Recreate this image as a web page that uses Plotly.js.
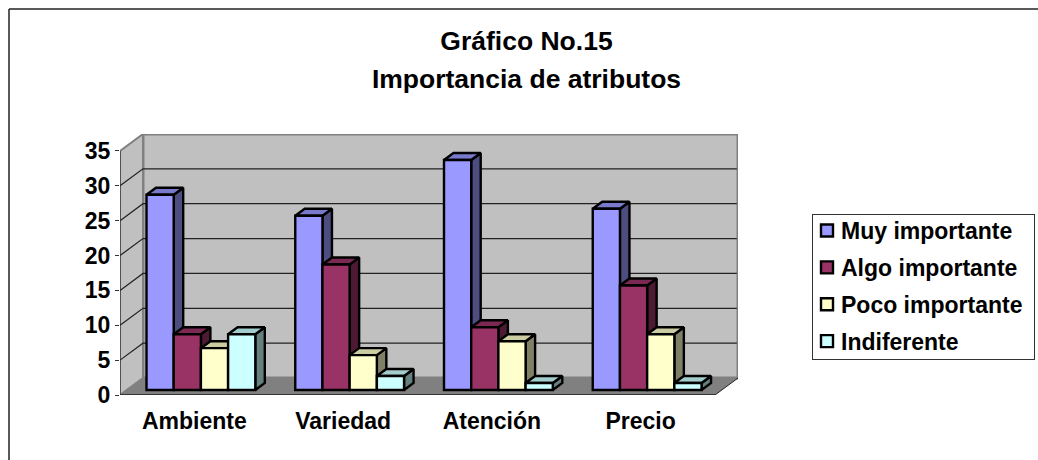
<!DOCTYPE html>
<html>
<head>
<meta charset="utf-8">
<script src="https://cdn.plot.ly/plotly-3.0.1.min.js"></script>
<style>html,body{margin:0;padding:0;background:#fff;overflow:hidden}</style>
</head>
<body>
<div id="chart" style="width:1038px;height:460px"></div>
<script>
const categories = ['Ambiente', 'Variedad', 'Atención', 'Precio'];
const seriesNames = ['Muy importante', 'Algo importante', 'Poco importante', 'Indiferente'];
const muyImportante = [28, 25, 33, 26];
const algoImportante = [8, 18, 9, 15];
const pocoImportante = [6, 5, 7, 8];
const indiferente = [8, 2, 1, 1];
const seriesValues = [muyImportante, algoImportante, pocoImportante, indiferente];
const frontColors = ['#9999FF', '#993366', '#FFFFCC', '#CCFFFF'];
const sideColors = ['#4D4D80', '#4D1A33', '#808066', '#668080'];
const topColors = ['#7A7ACC', '#7A2952', '#CCCCA3', '#A3CCCC'];
const yTicks = [0, 5, 10, 15, 20, 25, 30, 35];

const FONT = '"Liberation Sans", Arial, sans-serif';
const PX_X = 148.75, PX_Y = 6.98;          // pixels per axis unit
const wallDX = 23 / PX_X, wallDY = 17 / PX_Y;    // depth of the chart floor
const barDX = 9.5 / PX_X, barDY = 7 / PX_Y;      // depth of a bar
const barBase = 5 / PX_Y;                        // bars stand inside the floor
const barW = 27.2 / PX_X;
const groupStart = -0.5 + 26.5 / PX_X;
const xMin = -0.5, xMax = 3.5, yTop = 35;
const xRange = [xMin, xMax + wallDX];
const yRange = [0, yTop + wallDY];

const traces = [];
function poly(xs, ys, fill, lineColor, lineWidth) {
  traces.push({
    type: 'scatter', mode: 'lines', x: xs, y: ys,
    fill: fill ? 'toself' : 'none', fillcolor: fill || undefined,
    line: {color: lineColor || 'rgba(0,0,0,0)', width: lineWidth === undefined ? 1 : lineWidth},
    showlegend: false, hoverinfo: 'skip', cliponaxis: false, xaxis: 'x', yaxis: 'y'
  });
}

// back wall, left wall, floor
poly([xMin + wallDX, xMax + wallDX, xMax + wallDX, xMin + wallDX, xMin + wallDX],
     [wallDY, wallDY, yTop + wallDY, yTop + wallDY, wallDY], '#C0C0C0', '#808080', 3);
poly([xMin, xMin + wallDX, xMin + wallDX, xMin, xMin],
     [0, wallDY, yTop + wallDY, yTop, 0], '#C0C0C0', '#808080', 2);
poly([xMin, xMin + wallDX, xMax + wallDX, xMax, xMin],
     [0, wallDY, wallDY, 0, 0], '#808080', 'rgba(0,0,0,0)', 0);
poly([xMax, xMax + wallDX], [0, wallDY], null, '#222', 1);

// grid lines across the left wall and the back wall
yTicks.filter(v => v > 0 && v < yTop).forEach(v => {
  poly([xMin, xMin + wallDX, xMax + wallDX - 0.008], [v, v + wallDY, v + wallDY], null, '#222', 1.2);
});

// axis lines and category tick marks
poly([xMin, xMin], [0, yTop], null, '#333', 1.2);
poly([xMin, xMax], [0, 0], null, '#333', 2);
[0, 1, 2, 3, 4].forEach(i => {
  poly([xMin + i, xMin + i], [0, -0.75], null, '#444', 1);
});

// side and top faces of the bars, left to right
categories.forEach((c, ci) => {
  seriesValues.forEach((vals, si) => {
    const l = ci + groupStart + si * barW, r = l + barW, t = vals[ci] + barBase;
    poly([r, r + barDX, r + barDX, r, r], [barBase, barBase + barDY, t + barDY, t, barBase], sideColors[si], '#000', 2.4);
    poly([l, r, r + barDX, l + barDX, l], [t, t, t + barDY, t + barDY, t], topColors[si], '#000', 2.4);
  });
});

// front faces: real bars on an overlaying subplot
seriesValues.forEach((vals, si) => {
  traces.push({
    type: 'bar', name: seriesNames[si], legendgroup: seriesNames[si],
    x: categories.map((c, i) => i), y: vals,
    base: vals.map(() => barBase),
    width: vals.map(() => barW),
    offset: vals.map(() => groupStart + si * barW),
    marker: {color: frontColors[si], line: {color: '#000', width: 2.4}},
    hoverinfo: 'skip', xaxis: 'x2', yaxis: 'y2'
  });
});

const legendBoxTop = 214, legendRowShift = 6;
const layout = {
  width: 1038, height: 460,
  margin: {l: 120, r: 300, t: 134, b: 65, pad: 0, autoexpand: false},
  paper_bgcolor: '#fff', plot_bgcolor: 'rgba(0,0,0,0)',
  font: {family: FONT, color: '#000'},
  barmode: 'overlay',
  title: {
    text: '<b>Gráfico No.15<br>Importancia de atributos</b>',
    font: {family: FONT, size: 26.5, color: '#000'},
    x: 526.5 / 1038, xref: 'container', xanchor: 'center',
    y: 0.8917, yref: 'container', yanchor: 'middle'
  },
  xaxis: {
    type: 'linear', range: xRange, domain: [0, 1],
    tickmode: 'array', tickvals: categories.map((c, i) => i), ticktext: categories.map(c => '<b>' + c + '</b>'),
    ticks: '', showline: false, showgrid: false, zeroline: false,
    tickfont: {family: FONT, size: 23, color: '#000'}, ticklabelstandoff: 10, fixedrange: true
  },
  yaxis: {
    type: 'linear', range: yRange, domain: [0, 1],
    tickmode: 'array', tickvals: yTicks, ticktext: yTicks.map(v => '<b>' + v + '</b>'),
    ticks: 'outside', ticklen: 4, tickwidth: 1, tickcolor: '#333',
    showline: false, showgrid: false, zeroline: false,
    tickfont: {family: FONT, size: 23, color: '#000'}, fixedrange: true
  },
  xaxis2: {type: 'linear', range: xRange, overlaying: 'x', visible: false, fixedrange: true},
  yaxis2: {type: 'linear', range: yRange, overlaying: 'y', visible: false, fixedrange: true},
  legend: {
    x: (812 - 120) / 618, y: (395 - (legendBoxTop - legendRowShift)) / 261, xanchor: 'left', yanchor: 'top',
    bgcolor: '#fff', bordercolor: '#333', borderwidth: 1,
    font: {family: FONT, size: 23, color: '#000', weight: 700},
    tracegroupgap: 4, indentation: -6, itemclick: false, itemdoubleclick: false
  },
  shapes: [
    {type: 'line', xref: 'paper', yref: 'paper', layer: 'above',
     x0: (9 - 120) / 618, x1: (1038 - 120) / 618, y0: (395 - 9) / 261, y1: (395 - 9) / 261,
     line: {color: '#222', width: 1.5}},
    {type: 'line', xref: 'paper', yref: 'paper', layer: 'above',
     x0: (9 - 120) / 618, x1: (9 - 120) / 618, y0: (395 - 9) / 261, y1: (395 - 460) / 261,
     line: {color: '#222', width: 1.5}}
  ]
};

Plotly.newPlot('chart', traces, layout, {displayModeBar: false, responsive: false}).then(() => {
  document.querySelectorAll('#chart .legendtext').forEach(el => {
    el.setAttribute('x', parseFloat(el.getAttribute('x')) - 6);
  });
  const bg = document.querySelector('#chart .legend rect.bg');
  if (bg) {
    bg.setAttribute('y', parseFloat(bg.getAttribute('y') || 0) + legendRowShift);
    bg.setAttribute('height', 145);
    bg.setAttribute('width', 222);
  }
  const lines = document.querySelectorAll('#chart .gtitle tspan.line');
  if (lines[1]) lines[1].setAttribute('dy', '38px');
});
</script>
</body>
</html>
